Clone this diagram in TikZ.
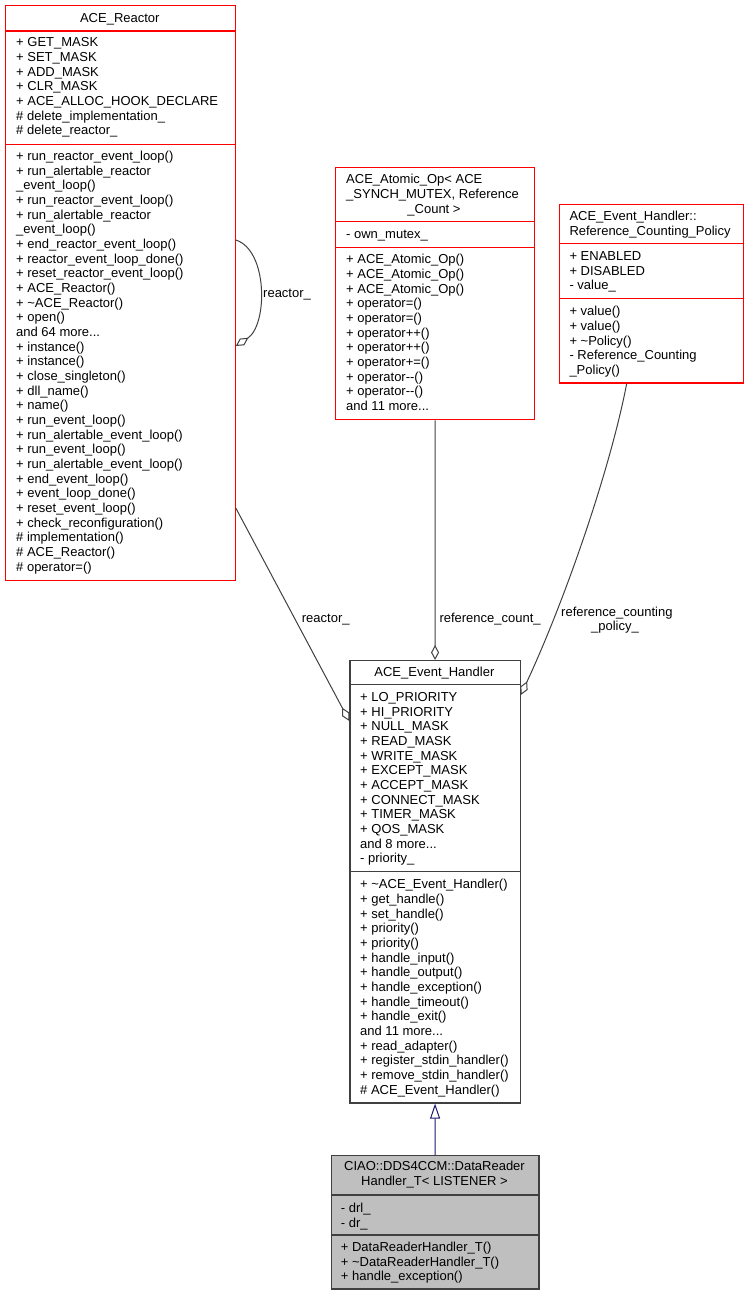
\documentclass[tikz,border=0pt]{standalone}
\usepackage{fontspec}
\setmainfont{Liberation Sans}
\usetikzlibrary{arrows.meta}
\definecolor{edgegrey}{HTML}{404040}
\definecolor{navyedge}{HTML}{191970}
\definecolor{boxred}{HTML}{FF0000}
\definecolor{boxdark}{HTML}{404040}
\definecolor{drgrey}{HTML}{BFBFBF}
\newcommand\mydots{...}
\newcommand\txtlines[4]{\foreach \itemtxt [count=\i] in {#4} {\node[txt] (#1\i) at (#2,{#3+14.67*(\i-1)}) {\itemtxt};}}
\begin{document}
\begin{tikzpicture}[x=1pt,y=-1pt,
  txt/.style={anchor=base west, inner sep=0pt, font=\fontsize{13}{14.67}\selectfont},
  ctxt/.style={anchor=base, inner sep=0pt, font=\fontsize{13}{14.67}\selectfont},
  redbox/.style={draw=boxred, line width=1.3pt, fill=white, inner sep=0pt, anchor=north west, rectangle},
  darkbox/.style={draw=boxdark, line width=1.3pt, fill=white, inner sep=0pt, anchor=north west, rectangle},
  redsep/.style={draw=boxred, line width=1.3pt},
  darksep/.style={draw=boxdark, line width=1.3pt},
  usage/.style={draw=edgegrey, line width=1pt, -{Diamond[open, length=15pt, width=8pt, fill=white]}},
  inherit/.style={draw=navyedge, line width=1pt, -{Triangle[open, length=15pt, width=10pt, fill=white]}},
  lbl/.style={anchor=base west, inner sep=0pt, font=\fontsize{13}{14.67}\selectfont}
]
\useasboundingbox (0,0) rectangle (748,1296);

% ---------------- ACE_Reactor ----------------
\node[redbox, minimum width=229.5pt, minimum height=575pt] (reactor) at (5,5) {};
\draw[redsep] (reactor.west |- 0,31) -- (reactor.east |- 0,31);
\draw[redsep] (reactor.west |- 0,144.7) -- (reactor.east |- 0,144.7);
\node[ctxt] (reactortitle) at (119.8,22.5) {ACE\_Reactor};
\txtlines{ra}{16}{46.7}{+ GET\_MASK,+ SET\_MASK,+ ADD\_MASK,+ CLR\_MASK,+ ACE\_ALLOC\_HOOK\_DECLARE,\# delete\_implementation\_,\# delete\_reactor\_}
\txtlines{rm}{16}{160.5}{+ run\_reactor\_event\_loop(),+ run\_alertable\_reactor,\_event\_loop(),+ run\_reactor\_event\_loop(),+ run\_alertable\_reactor,\_event\_loop(),+ end\_reactor\_event\_loop(),+ reactor\_event\_loop\_done(),+ reset\_reactor\_event\_loop(),+ ACE\_Reactor(),+ \textasciitilde{}ACE\_Reactor(),+ open(),and 64 more\mydots,+ instance(),+ instance(),+ close\_singleton(),+ dll\_name(),+ name(),+ run\_event\_loop(),+ run\_alertable\_event\_loop(),+ run\_event\_loop(),+ run\_alertable\_event\_loop(),+ end\_event\_loop(),+ event\_loop\_done(),+ reset\_event\_loop(),+ check\_reconfiguration(),\# implementation(),\# ACE\_Reactor(),\# operator=()}

% ---------------- ACE_Atomic_Op ----------------
\node[redbox, minimum width=199pt, minimum height=252.3pt] (atomic) at (335,166.7) {};
\draw[redsep] (atomic.west |- 0,221.7) -- (atomic.east |- 0,221.7);
\draw[redsep] (atomic.west |- 0,247.3) -- (atomic.east |- 0,247.3);
\node[txt] (atomictitle1) at (346,183) {ACE\_Atomic\_Op< ACE};
\node[txt] (atomictitle2) at (346,198) {\_SYNCH\_MUTEX, Reference};
\node[ctxt] (atomictitle3) at (434,213) {\_Count >};
\node[txt] (atomicattr) at (346,238) {- own\_mutex\_};
\txtlines{am}{346}{263.7}{+ ACE\_Atomic\_Op(),+ ACE\_Atomic\_Op(),+ ACE\_Atomic\_Op(),+ operator=(),+ operator=(),+ operator++(),+ operator++(),+ operator+=(),+ operator-{}-(),+ operator-{}-(),and 11 more\mydots}

% ---------------- Reference_Counting_Policy ----------------
\node[redbox, minimum width=184pt, minimum height=178.3pt] (policy) at (558.7,204) {};
\draw[redsep] (policy.west |- 0,243.3) -- (policy.east |- 0,243.3);
\draw[redsep] (policy.west |- 0,298.3) -- (policy.east |- 0,298.3);
\node[txt] (policytitle1) at (569.3,220.4) {ACE\_Event\_Handler::};
\node[txt] (policytitle2) at (569.3,235.1) {Reference\_Counting\_Policy};
\txtlines{pa}{569.3}{260.4}{+ ENABLED,+ DISABLED,- value\_}
\txtlines{pm}{569.3}{315.7}{+ value(),+ value(),+ \textasciitilde{}Policy(),- Reference\_Counting,\_Policy()}

% ---------------- ACE_Event_Handler ----------------
\node[darkbox, minimum width=170.2pt, minimum height=442.3pt] (handler) at (349.3,660) {};
\draw[darksep] (handler.west |- 0,684.3) -- (handler.east |- 0,684.3);
\draw[darksep] (handler.west |- 0,871.7) -- (handler.east |- 0,871.7);
\node[ctxt] (handlertitle) at (434.4,676.4) {ACE\_Event\_Handler};
\txtlines{ha}{360}{701.6}{+ LO\_PRIORITY,+ HI\_PRIORITY,+ NULL\_MASK,+ READ\_MASK,+ WRITE\_MASK,+ EXCEPT\_MASK,+ ACCEPT\_MASK,+ CONNECT\_MASK,+ TIMER\_MASK,+ QOS\_MASK,and 8 more\mydots,- priority\_}
\txtlines{hm}{360}{888.7}{+ \textasciitilde{}ACE\_Event\_Handler(),+ get\_handle(),+ set\_handle(),+ priority(),+ priority(),+ handle\_input(),+ handle\_output(),+ handle\_exception(),+ handle\_timeout(),+ handle\_exit(),and 11 more\mydots,+ read\_adapter(),+ register\_stdin\_handler(),+ remove\_stdin\_handler(),\# ACE\_Event\_Handler()}

% ---------------- DataReaderHandler_T ----------------
\node[darkbox, fill=drgrey, minimum width=207.6pt, minimum height=133.3pt] (reader) at (330.7,1155) {};
\draw[darksep] (reader.west |- 0,1195) -- (reader.east |- 0,1195);
\draw[darksep] (reader.west |- 0,1235) -- (reader.east |- 0,1235);
\node[ctxt] (readertitle1) at (434.5,1170.7) {CIAO::DDS4CCM::DataReader};
\node[ctxt] (readertitle2) at (434.5,1185.7) {Handler\_T< LISTENER >};
\txtlines{da}{340.7}{1212.4}{- drl\_,- dr\_}
\txtlines{dm}{340.7}{1251.4}{+ DataReaderHandler\_T(),+ \textasciitilde{}DataReaderHandler\_T(),+ handle\_exception()}

% ---------------- connectors ----------------
\draw[usage] (reactor.east |- 0,240) .. controls (268,250) and (268,325) .. (reactor.east |- 0,346);
\node[lbl] (lblreactorself) at (263,297) {reactor\_};

\draw[usage] (reactor.east |- 0,508) -- (handler.west |- 0,721);
\node[lbl] (lblreactor) at (301.7,622) {reactor\_};

\draw[usage] (atomic.south) -- (handler.north);
\node[lbl] (lblcount) at (439.3,622) {reference\_count\_};

\draw[usage] (policy.south -| 626.7,0) .. controls (610,470) and (565,600) .. (handler.east |- 0,695);
\node[lbl] (lblpolicy1) at (561,616.5) {reference\_counting};
\node[ctxt] (lblpolicy2) at (615,630.7) {\_policy\_};

\draw[inherit] (reader.north) -- (handler.south);
\end{tikzpicture}
\end{document}
